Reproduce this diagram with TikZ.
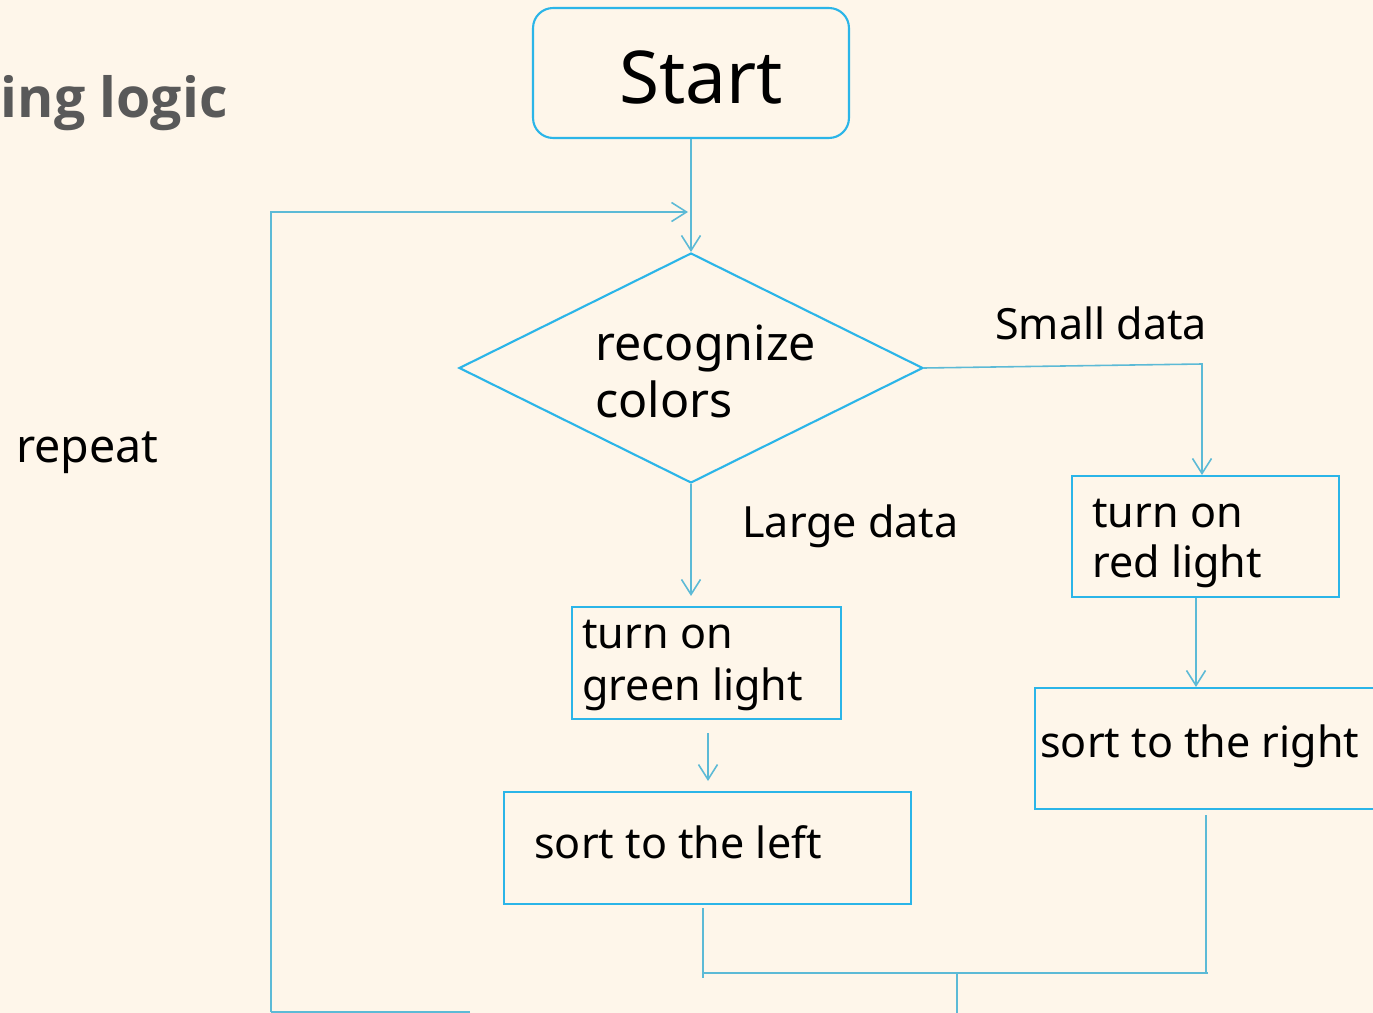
\documentclass[tikz,border=0pt]{standalone}
\usepackage{fontspec}
\setmainfont{Noto Sans}
\newfontfamily\titlefont{Open Sans}
\usetikzlibrary{arrows.meta,shapes.geometric}
\definecolor{bg}{HTML}{FEF6EA}
\definecolor{boxc}{HTML}{2BB5E8}
\definecolor{linec}{HTML}{5CBAD6}
\definecolor{titlec}{HTML}{595959}
\begin{document}
\begin{tikzpicture}[x=0.02cm,y=-0.02cm,
  box/.style={draw=boxc,line width=1.2pt,inner sep=0pt},
  lbl/.style={anchor=base west,inner sep=0pt,align=left,font=\fontsize{24.5}{29.5}\selectfont},
  conn/.style={draw=linec,line width=0.9pt},
  arr/.style={conn,-{Straight Barb[length=0.3cm,width=0.38cm,line width=0.9pt]}}]
\useasboundingbox (0,0) rectangle (1373,1013);
\clip (0,0) rectangle (1373,1013);
\fill[bg] (0,0) rectangle (1373,1013);

% shapes
\node[box,rounded corners=0.4cm,minimum width=6.32cm,minimum height=2.6cm] (start) at (691,73) {};
\node[box,diamond,minimum width=9.28cm,minimum height=4.6cm] (dia) at (691,368) {};
\node[box,minimum width=5.38cm,minimum height=2.24cm] (green) at (706.5,663) {};
\node[box,minimum width=8.14cm,minimum height=2.24cm] (sleft) at (707.5,848) {};
\node[box,minimum width=5.34cm,minimum height=2.42cm] (red) at (1205.5,536.5) {};
\node[box,minimum width=7.3cm,minimum height=2.42cm] (sright) at (1217.5,748.5) {};

% texts (base anchor = baseline of the last line)
\node[anchor=base,inner sep=0pt,font=\fontsize{41.5}{45}\selectfont] (starttxt) at (701,104) {Start};
\node[lbl,font=\fontsize{27.5}{33}\selectfont] (diatxt) at (595,418) {recognize\\colors};
\node[lbl] (greentxt) at (582,700) {turn on\\green light};
\node[lbl] (slefttxt) at (534,858) {sort to the left};
\node[lbl,font=\fontsize{24.5}{28.4}\selectfont] (redtxt) at (1092,577) {turn on\\red light};
\node[lbl] (srighttxt) at (1040,757) {sort to the right};
\node[lbl] (small) at (995,340) {Small data};
\node[lbl] (large) at (742,538) {Large data};
\node[lbl,font=\fontsize{26.5}{30}\selectfont] (repeat) at (16,462) {repeat};
\node[anchor=base east,inner sep=0pt,text=titlec,font=\titlefont\fontsize{31.5}{35}\selectfont\bfseries] (title) at (228,118) {ing logic};

% coordinates
\coordinate (loopB) at (271,1012);
\coordinate (loopE) at (470,1012);
\coordinate (loopT) at (271,212);
\coordinate (loopIn) at (688,212);
\coordinate (rTurn) at (1202,364);
\coordinate (gA) at (708,733);
\coordinate (gB) at (708,781);
\coordinate (lA) at (703,908);
\coordinate (lB) at (703,978);
\coordinate (mL) at (703,973);
\coordinate (mR) at (1208,973);
\coordinate (rA) at (1206,815);
\coordinate (rB) at (1206,973);
\coordinate (oA) at (957,973);
\coordinate (oB) at (957,1013);

% connectors
\draw[arr] (start.south) -- (dia.north);
\draw[conn] (loopE) -- (loopB);
\draw[arr] (loopB) -- (loopT) -- (loopIn);
\draw[arr] (dia.east) -- (rTurn) -- (rTurn |- red.north);
\draw[arr,shorten >=5.7pt] (dia.south) -- (dia.south |- green.north);
\draw[arr] (gA) -- (gB);
\draw[arr] (1196,0 |- red.south) -- (1196,0 |- sright.north);
\draw[conn] (lA) -- (lB);
\draw[conn] (mL) -- (mR);
\draw[conn] (rA) -- (rB);
\draw[conn] (oA) -- (oB);
\end{tikzpicture}
\end{document}
